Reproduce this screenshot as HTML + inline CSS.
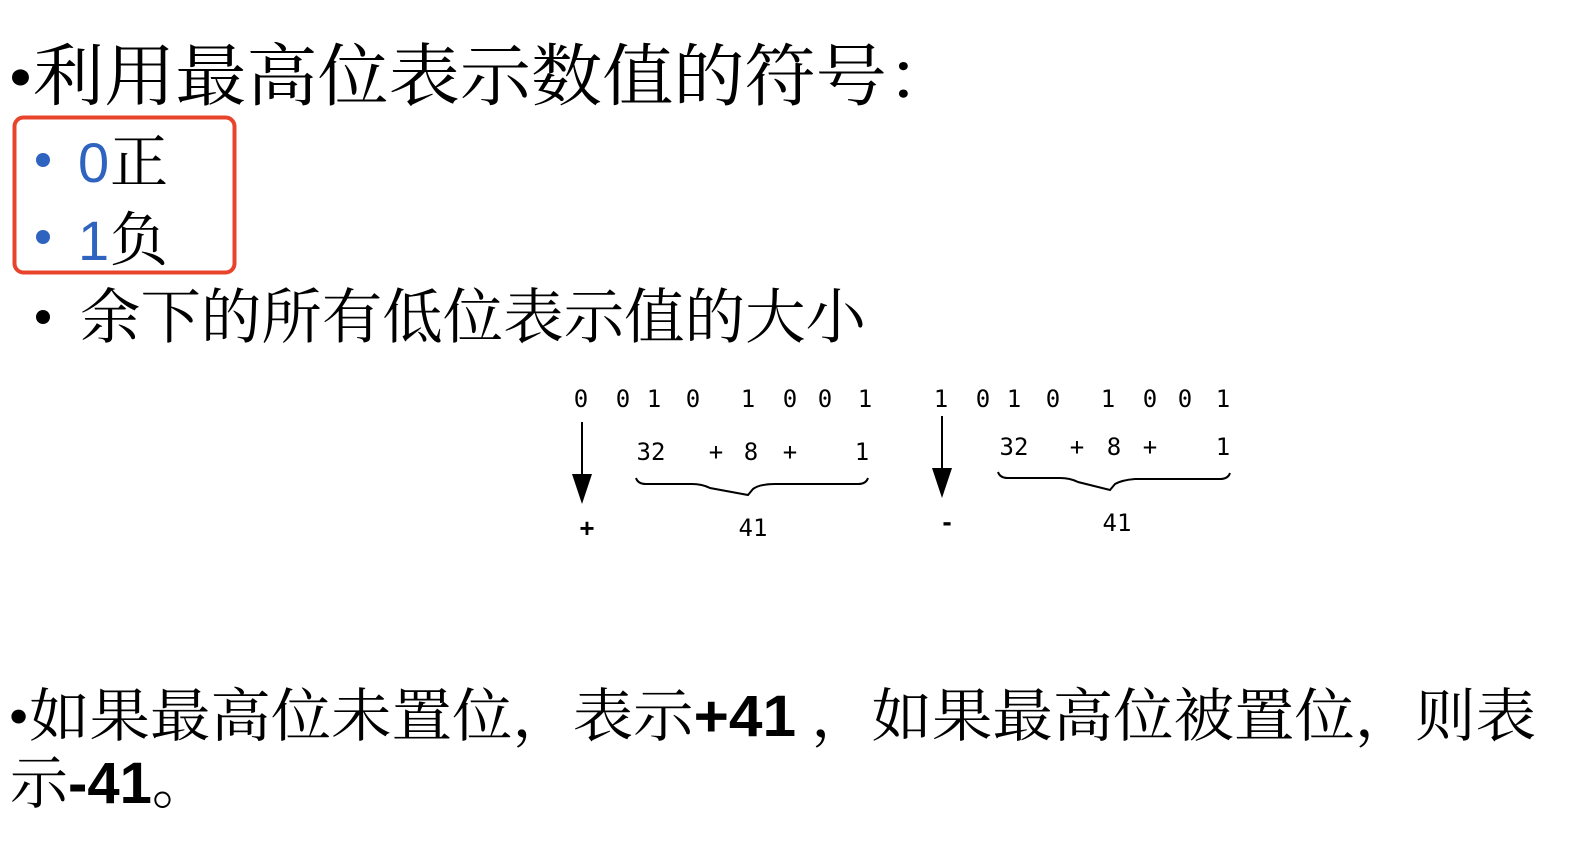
<!DOCTYPE html>
<html><head><meta charset="utf-8"><style>
html,body{margin:0;padding:0;background:#fff;}
svg{display:block}
.cj{font-family:"Liberation Serif","Noto Serif CJK SC",serif;}
.sa{font-family:"Liberation Sans","Noto Sans CJK SC",sans-serif;}
.mo{font-family:"DejaVu Sans Mono","Liberation Mono",monospace;font-size:24px;}
</style></head><body>
<svg width="1572" height="860" viewBox="0 0 1572 860" xmlns="http://www.w3.org/2000/svg">
<text class="cj" x="8" y="100" font-size="68" textLength="950" lengthAdjust="spacingAndGlyphs">•利用最高位表示数值的符号：</text>
<rect x="14.5" y="117.5" width="220" height="155" rx="9" fill="none" stroke="#e8442c" stroke-width="4"/>
<circle cx="43" cy="160" r="7" fill="#2f63c0"/>
<text class="sa" x="78" y="182" font-size="56" fill="#2f63c0">0</text>
<text class="cj" x="110" y="182" font-size="58">正</text>
<circle cx="43" cy="237" r="7" fill="#2f63c0"/>
<text class="sa" x="78" y="260" font-size="56" fill="#2f63c0">1</text>
<text class="cj" x="110" y="260" font-size="58">负</text>
<circle cx="43" cy="317" r="7" fill="#000"/>
<text class="cj" x="80" y="338" font-size="60" textLength="786" lengthAdjust="spacingAndGlyphs">余下的所有低位表示值的大小</text>

<g class="mo" text-anchor="middle">
<text x="581" y="407">0</text><text x="623" y="407">0</text><text x="654" y="407">1</text><text x="693" y="407">0</text>
<text x="748" y="407">1</text><text x="790" y="407">0</text><text x="825" y="407">0</text><text x="865" y="407">1</text>
<text x="941" y="407">1</text><text x="983" y="407">0</text><text x="1014" y="407">1</text><text x="1053" y="407">0</text>
<text x="1108" y="407">1</text><text x="1150" y="407">0</text><text x="1185" y="407">0</text><text x="1223" y="407">1</text>
<text x="651" y="460">32</text><text x="716" y="460">+</text><text x="751" y="460">8</text><text x="790" y="460">+</text><text x="862" y="460">1</text>
<text x="1014" y="455">32</text><text x="1077" y="455">+</text><text x="1114" y="455">8</text><text x="1150" y="455">+</text><text x="1223" y="455">1</text>
<text x="753" y="536">41</text><text x="1117" y="531">41</text>
</g>
<text class="sa" x="587" y="537" font-size="26" font-weight="bold" text-anchor="middle">+</text>
<text class="sa" x="947" y="531" font-size="28" font-weight="bold" text-anchor="middle">-</text>
<line x1="582" y1="422" x2="582" y2="478" stroke="#000" stroke-width="2"/>
<polygon points="572,474 592,474 582,504" fill="#000"/>
<line x1="942" y1="416" x2="942" y2="472" stroke="#000" stroke-width="2"/>
<polygon points="932,468 952,468 942,498" fill="#000"/>
<path d="M636,478 q2,6 10,6 L692,484 q10,0 18,4 L748,495 L753,489 Q760,484 775,484 L858,484 q8,0 10,-6" fill="none" stroke="#000" stroke-width="2"/>
<path d="M998,472 q2,6 10,6 L1060,478 q10,0 18,4 L1110,490 L1115,484 Q1122,480 1135,479 L1220,479 q8,0 10,-6" fill="none" stroke="#000" stroke-width="2"/>

<text class="cj" x="8" y="736" font-size="58" textLength="1528" lengthAdjust="spacingAndGlyphs">•如果最高位未置位，表示<tspan class="sa" font-weight="bold">+41</tspan> ，如果最高位被置位，则表</text>
<text class="cj" x="10" y="803" font-size="58">示<tspan class="sa" font-weight="bold">-41</tspan>。</text>
</svg>
</body></html>
